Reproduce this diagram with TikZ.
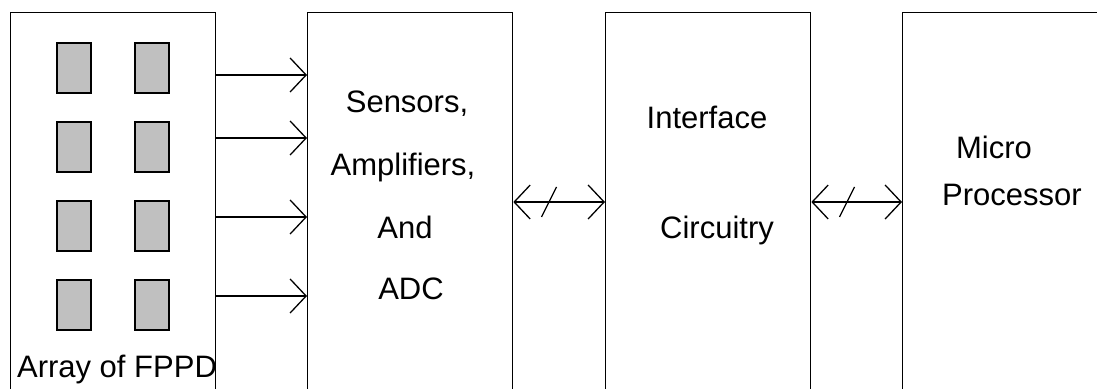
\documentclass[tikz,border=0pt]{standalone}
\usepackage{fontspec}
\setmainfont{Liberation Sans}
\usetikzlibrary{arrows.meta,%
                positioning}

\definecolor{cellgray}{RGB}{192,192,192}

\begin{document}
\begin{tikzpicture}[x=1pt,y=-1pt,line width=1.3pt]
		\tikzstyle{Block}=[draw,rectangle,minimum width=205pt,minimum height=420pt,anchor=north west,inner sep=0pt]
		\tikzstyle{Cell}=[draw,fill=cellgray,rectangle,minimum width=34pt,minimum height=50pt,inner sep=0pt,line width=1.1pt]
		\tikzstyle{Label}=[anchor=base,inner sep=0pt,font=\fontsize{31}{36}\selectfont]
		\tikzstyle{Sig}=[-{Straight Barb[length=16pt,width=34pt,line width=1.3pt]}]
		\tikzstyle{Bus}=[{Straight Barb[length=16pt,width=34pt,line width=1.3pt]}-{Straight Barb[length=16pt,width=34pt,line width=1.3pt]}]
		\useasboundingbox (0,0) rectangle (1097,388);
		\clip (0,0) rectangle (1097,388);
		% blocks
		\node[Block] (array) at (10,12) {};
		\node[Block] (sens) at (307,12) {};
		\node[Block] (intf) at (605,12) {};
		\node[Block] (mproc) at (902,12) {};
		% photodetector cells
		\foreach \r/\y in {1/68,2/147,3/226,4/305}{
			\node[Cell] (pd\r a) at (74,\y) {};
			\node[Cell] (pd\r b) at (152,\y) {};
		}
		% texts
		\node[Label] (tarray) at (117,377) {Array of FPPD};
		\node[Label] (tsens1) at (407,112) {Sensors,};
		\node[Label] (tsens2) at (403,175) {Amplifiers,};
		\node[Label] (tsens3) at (405,238) {And};
		\node[Label] (tsens4) at (411,299) {ADC};
		\node[Label] (tintf1) at (707,128) {Interface};
		\node[Label] (tintf2) at (717,238) {Circuitry};
		\node[Label] (tmp1) at (994,158) {Micro};
		\node[Label] (tmp2) at (1012,205) {Processor};
		% signal lines
		\foreach \s in {63,126,205,284}
			\draw[Sig] ([yshift=-\s pt]array.north east) -- ([yshift=-\s pt]sens.north west);
		% buses
		\draw[Bus] ([yshift=-190pt]sens.north east) -- ([yshift=-190pt]intf.north west);
		\draw[Bus] ([yshift=-190pt]intf.north east) -- ([yshift=-190pt]mproc.north west);
		\draw (549,202) +(-7.5,15) -- +(7.5,-15);
		\draw (847,202) +(-7.5,15) -- +(7.5,-15);
	\end{tikzpicture}
\end{document}
